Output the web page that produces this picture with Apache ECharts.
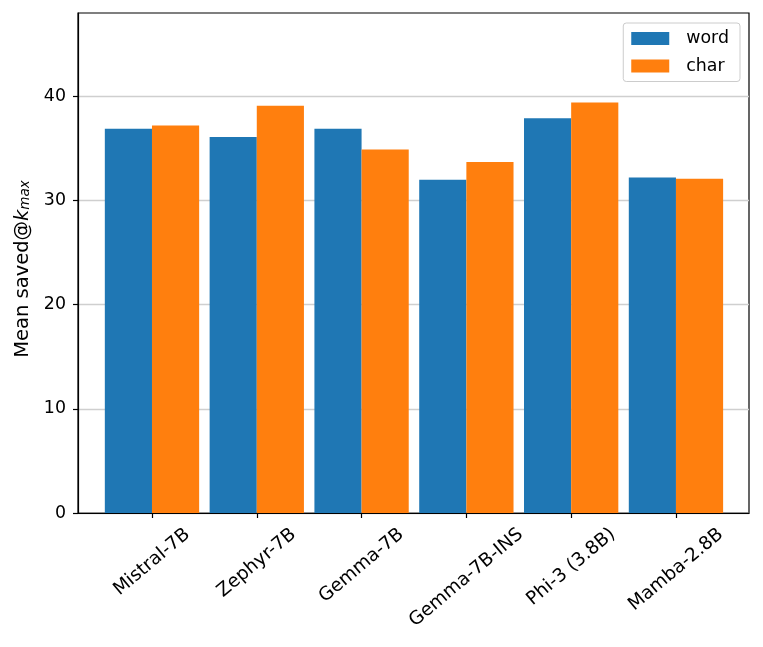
<!DOCTYPE html>
<html>
<head>
<meta charset="utf-8">
<script src="https://cdn.jsdelivr.net/npm/echarts@6/dist/echarts.min.js"></script>
<style>
html,body{margin:0;padding:0;background:#fff;}
#chart{width:763px;height:647px;}
</style>
</head>
<body>
<div id="chart"></div>
<script>
const categories = ['Mistral-7B', 'Zephyr-7B', 'Gemma-7B', 'Gemma-7B-INS', 'Phi-3 (3.8B)', 'Mamba-2.8B'];
const wordValues = [36.9, 36.1, 36.9, 32.0, 37.9, 32.2];
const charValues = [37.2, 39.1, 34.9, 33.7, 39.4, 32.1];
const yTicks = [0, 10, 20, 30, 40];
const seriesNames = ['word', 'char'];

const FONT = 'DejaVu Sans';
const FS = 17.4;    // y tick labels, legend
const FSX = 18.5;   // rotated category labels
const FSY = 19.5;   // y axis title
const ROT = 40;

// measure label widths to mimic centred rotated labels (matplotlib ha=center, va=top)
const cv = document.createElement('canvas').getContext('2d');
cv.font = FSX + 'px "' + FONT + '"';
const widths = categories.map(c => cv.measureText(c).width);
const minW = Math.min.apply(null, widths);
const th = ROT * Math.PI / 180;
const rich = {};
categories.forEach((c, i) => {
  const d = widths[i] - minW;
  const a = d * Math.sin(th) * Math.cos(th);
  const b = d * Math.sin(th) * Math.sin(th);
  rich['c' + i] = {fontFamily: FONT, fontSize: FSX, color: '#000', padding: [a, b, 0, 0]};
});

const chart = echarts.init(document.getElementById('chart'), null, {renderer: 'canvas'});
const option = {
  backgroundColor: '#fff',
  animation: false,
  textStyle: {fontFamily: FONT},
  grid: {left: 78, right: 14, top: 13, bottom: 134, show: true, borderColor: '#000', borderWidth: 1.2, containLabel: false},
  legend: {
    data: seriesNames,
    orient: 'vertical',
    right: 23, top: 23,
    padding: [7, 11, 7, 8],
    itemGap: 10.5,
    itemWidth: 38, itemHeight: 13,
    icon: 'rect',
    borderColor: '#cccccc', borderWidth: 1, borderRadius: 3,
    backgroundColor: '#fff',
    textStyle: {fontFamily: FONT, fontSize: FS, color: '#000', padding: [0, 0, 0, 12]}
  },
  xAxis: {
    type: 'value',
    min: -0.706, max: 5.697,
    axisLine: {show: true, onZero: false, lineStyle: {color: '#000', width: 1.2}},
    splitLine: {show: false},
    axisTick: {show: true, length: 5, lineStyle: {color: '#000', width: 1.2}, customValues: categories.map((c, i) => i)},
    axisLabel: {
      customValues: categories.map((c, i) => i),
      rotate: ROT, align: 'center', verticalAlign: 'middle', margin: 49,
      fontFamily: FONT, fontSize: FSX, color: '#000',
      formatter: v => { const i = Math.round(v); return '{c' + i + '|' + categories[i] + '}'; },
      rich: rich
    }
  },
  yAxis: {
    type: 'value',
    min: 0, max: 48,
    name: '{a|Mean saved@}{k|k}{s|max}',
    nameLocation: 'middle', nameRotate: 90, nameGap: 44,
    nameTextStyle: {
      padding: [0, 12, 0, 0],
      rich: {
        a: {fontFamily: FONT, fontSize: FSY, color: '#000'},
        k: {fontFamily: FONT, fontSize: FSY, fontStyle: 'italic', color: '#000'},
        s: {fontFamily: FONT, fontSize: 13.5, fontStyle: 'italic', color: '#000', verticalAlign: 'bottom', padding: [7, 0, 0, 0]}
      }
    },
    axisLine: {show: true, onZero: false, lineStyle: {color: '#000', width: 1.2}},
    axisTick: {show: true, length: 5, lineStyle: {color: '#000', width: 1.2}, customValues: yTicks},
    axisLabel: {customValues: yTicks, margin: 12, fontFamily: FONT, fontSize: FS, color: '#000'},
    splitLine: {show: true, lineStyle: {color: '#cfcfcf', width: 1.3}}
  },
  series: [
    {name: seriesNames[0], type: 'bar', data: wordValues.map((v, i) => [i, v]), itemStyle: {color: '#1f77b4'}, barGap: '0%', barCategoryGap: '10%'},
    {name: seriesNames[1], type: 'bar', data: charValues.map((v, i) => [i, v]), itemStyle: {color: '#ff7f0e'}, barGap: '0%', barCategoryGap: '10%'}
  ]
};
chart.setOption(option);
</script>
</body>
</html>
